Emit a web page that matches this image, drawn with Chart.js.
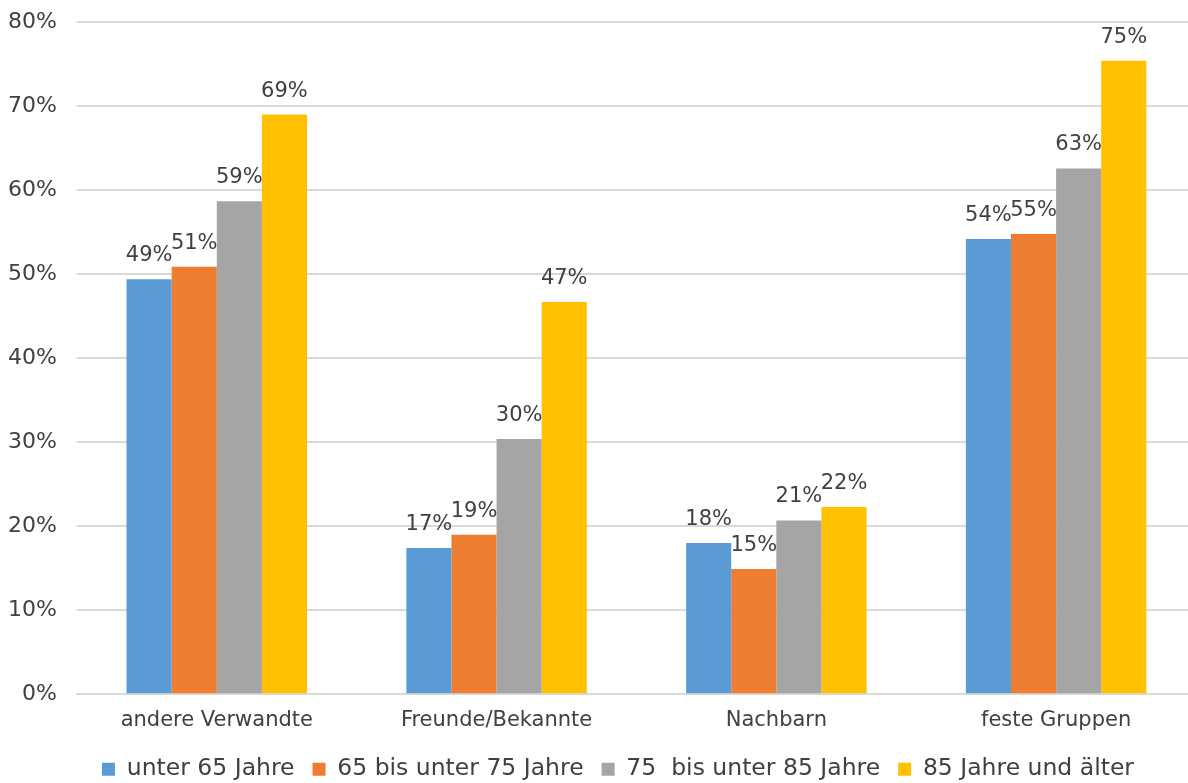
<!DOCTYPE html>
<html><head><meta charset="utf-8">
<script src="https://cdn.jsdelivr.net/npm/chart.js@4/dist/chart.umd.min.js"></script>
<style>html,body{margin:0;padding:0;background:#fff;overflow:hidden}#wrap{width:1208px;height:802px;position:absolute;left:-12px;top:-11px}</style>
</head><body><div id="wrap"><canvas id="c"></canvas></div>
<script>
const categories = ["andere Verwandte", "Freunde/Bekannte", "Nachbarn", "feste Gruppen"];
const seriesNames = ["unter 65 Jahre", "65 bis unter 75 Jahre", "75  bis unter 85 Jahre", "85 Jahre und älter"];
const under65 = [49.4, 17.4, 18.0, 54.2];
const from65to75 = [50.9, 19.0, 14.9, 54.8];
const from75to85 = [58.7, 30.4, 20.7, 62.6];
const over85 = [69.0, 46.7, 22.3, 75.4];
const yTicks = [0, 10, 20, 30, 40, 50, 60, 70, 80];
const colors = ["#5B9BD5", "#ED7D31", "#A5A5A5", "#FFC000"];
const FONT = "'DejaVu Sans', sans-serif";
const TXT = "#404040";

const labelPlugin = {
  id: 'vals',
  afterLayout(chart) {
    if (chart.legend) { chart.legend.left += 26; chart.legend.right += 26; }
  },
  afterDatasetsDraw(chart) {
    const ctx = chart.ctx;
    ctx.save();
    ctx.font = "21px " + FONT;
    ctx.fillStyle = TXT;
    ctx.textAlign = 'center';
    ctx.textBaseline = 'bottom';
    chart.data.datasets.forEach((ds, i) => {
      chart.getDatasetMeta(i).data.forEach((bar, j) => {
        ctx.fillText(Math.round(ds.data[j]) + '%', bar.x, bar.y - 13);
      });
    });
    ctx.restore();
  }
};

new Chart(document.getElementById('c'), {
  type: 'bar',
  data: {
    labels: categories,
    datasets: [under65, from65to75, from75to85, over85].map((d, i) => ({
      label: seriesNames[i], data: d, backgroundColor: colors[i],
      barPercentage: 1, categoryPercentage: 0.645
    }))
  },
  options: {
    responsive: true, maintainAspectRatio: false, animation: false,
    layout: { padding: { top: -8, left: 0, right: 0, bottom: 0 } },
    plugins: {
      tooltip: { enabled: false },
      legend: {
        position: 'bottom',
        labels: { font: { size: 23.5, family: FONT }, color: TXT, boxWidth: 13, boxHeight: 13, padding: 18 }
      }
    },
    scales: {
      x: {
        grid: { display: false },
        border: { color: '#d9d9d9', width: 2 },
        ticks: { font: { size: 21, family: FONT }, color: TXT, padding: 6 }
      },
      y: {
        min: 0, max: 80,
        afterBuildTicks(axis) { axis.ticks = yTicks.map(v => ({ value: v })); },
        grid: { color: '#d9d9d9', lineWidth: 2, drawTicks: false },
        border: { display: false },
        ticks: { font: { size: 22, family: FONT }, color: TXT, padding: 20, callback: v => v + '%' }
      }
    }
  },
  plugins: [labelPlugin]
});
</script></body></html>
